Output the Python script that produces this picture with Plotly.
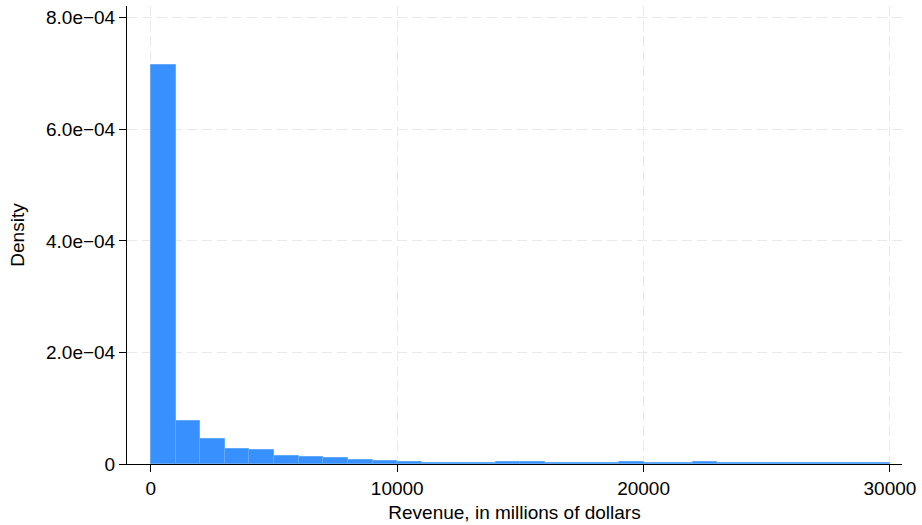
import plotly.graph_objects as go

# Histogram of revenue: 30 bins of width 1000 (millions of dollars)
bin_lower = [0, 1000, 2000, 3000, 4000, 5000, 6000, 7000, 8000, 9000,
             10000, 11000, 12000, 13000, 14000, 15000, 16000, 17000, 18000, 19000,
             20000, 21000, 22000, 23000, 24000, 25000, 26000, 27000, 28000, 29000]
bin_width = 1000

density = [0.000716, 0.000077, 0.000045, 0.000027, 0.000025,
           0.000014, 0.000013, 0.000010, 0.000007, 0.000006,
           0.000004, 0.000001, 0.000001, 0.000002, 0.000003,
           0.000003, 0.000001, 0.000002, 0.000001, 0.000004,
           0.000001, 0.000002, 0.000003, 0.000002, 0.000001,
           0.000001, 0.000001, 0.000001, 0.000001, 0.000001]

x_ticks = [0, 10000, 20000, 30000]
x_tick_text = ["0", "10000", "20000", "30000"]
y_ticks = [0, 0.0002, 0.0004, 0.0006, 0.0008]
y_tick_text = ["0", "2.0e\u221204", "4.0e\u221204", "6.0e\u221204", "8.0e\u221204"]

FONT = "Liberation Sans, Arial, Helvetica, sans-serif"
GRID = "#e9e9e9"
FS = 19

fig = go.Figure()
fig.add_trace(go.Bar(
    x=bin_lower,
    y=density,
    width=[bin_width] * len(bin_lower),
    offset=0,
    marker=dict(color="#3890ff", line=dict(color="#63a8ff", width=1)),
    hoverinfo="x+y",
))

fig.update_layout(
    width=922,
    height=525,
    margin=dict(l=127, r=17, t=6, b=59),
    paper_bgcolor="white",
    plot_bgcolor="white",
    bargap=0,
    showlegend=False,
    font=dict(family=FONT, size=FS, color="black"),
)

fig.update_xaxes(
    range=[-970, 30490],
    tickvals=x_ticks,
    ticktext=x_tick_text,
    ticks="outside",
    ticklen=7,
    tickcolor="black",
    tickfont=dict(size=FS),
    showline=True,
    linecolor="black",
    linewidth=1,
    showgrid=True,
    gridcolor=GRID,
    griddash="10px,5px",
    gridwidth=1,
    zeroline=False,
    title=dict(text="Revenue, in millions of dollars", font=dict(size=FS), standoff=7),
)

fig.update_yaxes(
    range=[0, 0.000821],
    tickvals=y_ticks,
    ticktext=y_tick_text,
    ticks="outside",
    ticklen=7,
    tickcolor="black",
    tickfont=dict(size=FS),
    showline=True,
    linecolor="black",
    linewidth=1,
    showgrid=True,
    gridcolor=GRID,
    griddash="10px,5px",
    gridwidth=1,
    zeroline=False,
    title=dict(text="Density", font=dict(size=FS), standoff=16),
)

fig.write_html("out.html")
